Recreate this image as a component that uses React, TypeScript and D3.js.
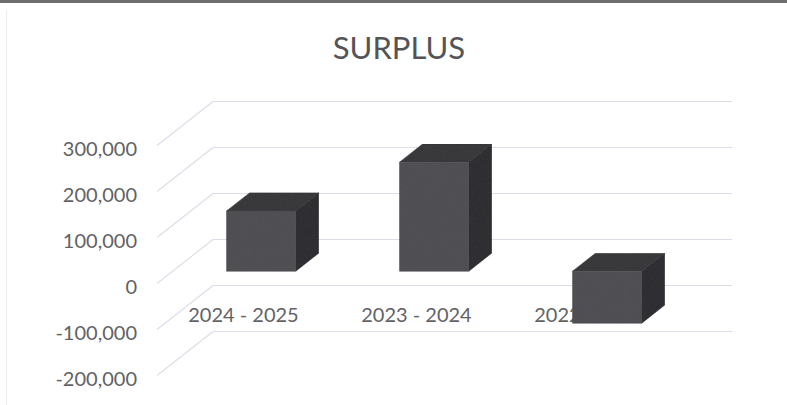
import React from "react";
import * as d3 from "d3";

const categories: string[] = ["2024 - 2025", "2023 - 2024", "2022 - 2023"];
const surplus: number[] = [131000, 237000, -113000];
const yTicks: number[] = [300000, 200000, 100000, 0, -100000, -200000];
const chartTitle = "SURPLUS";

const W = 787;
const H = 405;
const FRONT_LEFT = 157;
const FRONT_RIGHT = 676;
const DEPTH_DX = 56;
const DEPTH_DY = -44;
const BAR_FRONT = 0.28;
const BAR_BACK = 0.69;

export default function App() {
  const yFront = d3.scaleLinear().domain([-200000, 300000]).range([375.5, 145.5]);
  const xCat = d3.scaleBand<string>().domain(categories).range([FRONT_LEFT, FRONT_RIGHT]).padding(0);
  const xBar = d3
    .scaleBand<string>()
    .domain(categories)
    .range([FRONT_LEFT, FRONT_RIGHT])
    .paddingInner(0.6)
    .paddingOuter(0.3);
  const fmtBase = d3.format(",");
  const fmt = (v: number) => fmtBase(v).replace("\u2212", "-");

  const P = (x: number, v: number, f: number): [number, number] => [x + DEPTH_DX * f, yFront(v) + DEPTH_DY * f];
  const poly = (pts: [number, number][]) => pts.map((p) => p[0].toFixed(2) + "," + p[1].toFixed(2)).join(" ");

  const font = "Lato, 'Open Sans', sans-serif";
  const textColor = "#626266";
  const gridColor = "#dcdcea";

  return (
    <div style={{ position: "absolute", left: 0, top: 0, width: W, height: H, background: "#fff" }}>
      <svg width={W} height={H} viewBox={`0 0 ${W} ${H}`} style={{ display: "block" }}>
        <defs>
          <filter id="grain" x="0" y="0" width="100%" height="100%">
            <feTurbulence type="fractalNoise" baseFrequency="0.9" numOctaves={2} seed={3} result="noise" />
            <feColorMatrix
              in="noise"
              type="matrix"
              values="0 0 0 0 0.5  0 0 0 0 0.5  0 0 0 0 0.5  0 0 0 0.35 0"
              result="tint"
            />
            <feComposite in="tint" in2="SourceGraphic" operator="in" result="clipped" />
            <feBlend in="SourceGraphic" in2="clipped" mode="overlay" />
          </filter>
        </defs>
        <rect x={0} y={0} width={W} height={H} fill="#ffffff" />
        <rect x={0} y={0} width={W} height={3} fill="#6e6e70" />
        <line x1={6.5} y1={10} x2={6.5} y2={H} stroke="#ececf0" strokeWidth={1} />

        <text x={399} y={59} textAnchor="middle" fontFamily={font} fontSize={31} fill="#545457">
          {chartTitle}
        </text>

        {yTicks.map((t) => {
          const a = P(FRONT_LEFT, t, 0);
          const b = P(FRONT_LEFT, t, 1);
          const c = P(FRONT_RIGHT, t, 1);
          return (
            <g key={"g" + t}>
              <line x1={a[0]} y1={a[1]} x2={b[0]} y2={b[1]} stroke={gridColor} strokeWidth={1.1} />
              <line x1={b[0]} y1={b[1]} x2={c[0]} y2={c[1]} stroke={gridColor} strokeWidth={1.1} />
            </g>
          );
        })}

        {yTicks.map((t) => (
          <text
            key={"t" + t}
            x={137}
            y={yFront(t) + 2.5}
            textAnchor="end"
            dominantBaseline="central"
            fontFamily={font}
            fontSize={20}
            fill={textColor}
          >
            {fmt(t)}
          </text>
        ))}

        {categories.map((c) => (
          <text
            key={"c" + c}
            x={(xCat(c) as number) + xCat.bandwidth() / 2}
            y={314}
            textAnchor="middle"
            dominantBaseline="central"
            fontFamily={font}
            fontSize={20}
            fill={textColor}
          >
            {c}
          </text>
        ))}

        {categories.map((c, i) => {
          const v = surplus[i];
          const x0 = (xBar(c) as number) + 2;
          const x1 = x0 + xBar.bandwidth();
          const top = Math.max(v, 0);
          const bot = Math.min(v, 0);
          const front = poly([P(x0, top, BAR_FRONT), P(x1, top, BAR_FRONT), P(x1, bot, BAR_FRONT), P(x0, bot, BAR_FRONT)]);
          const topFace = poly([P(x0, top, BAR_FRONT), P(x1, top, BAR_FRONT), P(x1, top, BAR_BACK), P(x0, top, BAR_BACK)]);
          const side = poly([P(x1, top, BAR_FRONT), P(x1, top, BAR_BACK), P(x1, bot, BAR_BACK), P(x1, bot, BAR_FRONT)]);
          return (
            <g key={"b" + c} filter="url(#grain)">
              <polygon points={side} fill="#2d2d30" stroke="#2a2a2d" strokeWidth={0.6} />
              <polygon points={topFace} fill="#38383b" stroke="#343437" strokeWidth={0.6} />
              <polygon points={front} fill="#505053" stroke="#46464a" strokeWidth={0.6} />
            </g>
          );
        })}
      </svg>
    </div>
  );
}
